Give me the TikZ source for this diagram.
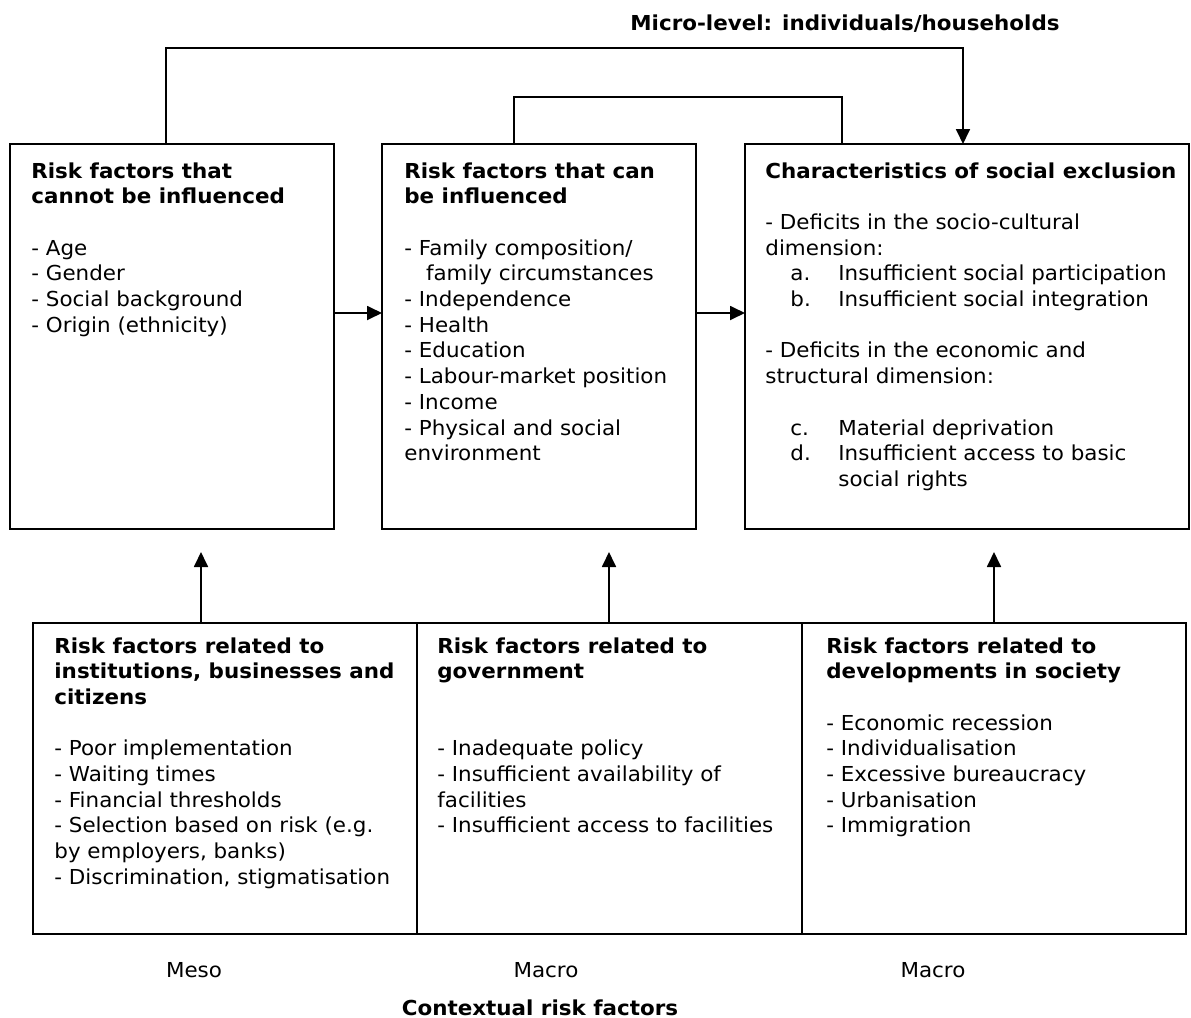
\documentclass[tikz,border=0pt]{standalone}
\usepackage{fontspec}
\setmainfont{DejaVu Sans}[FakeStretch=1.04]
\usetikzlibrary{arrows.meta,positioning}

\newcommand{\bodysize}{\fontsize{10.3}{12.85}\selectfont}
\newcommand{\gapline}{\\[12.85pt]}
\newcommand{\sublist}[1]{\hspace*{12.5pt}\makebox[24pt][l]{#1}}

\tikzset{
  frame/.style={draw, line width=1pt, inner sep=0pt, outer sep=0pt, anchor=north west},
  body/.style={align=left, inner sep=0pt, anchor=north west, font=\bodysize},
  level/.style={inner sep=0pt, anchor=base, font=\bodysize},
  link/.style={line width=0.9pt},
  flow/.style={link, -{Triangle[length=7.5pt,width=7pt]}}
}

\begin{document}
\begin{tikzpicture}[x=0.5pt,y=-0.5pt]
	\useasboundingbox (0,0) rectangle (1191,1018);

	% micro level boxes
	\node[frame, minimum width=162pt, minimum height=192.5pt] (fixed) at (10,144) {};
	\node[frame, minimum width=157pt, minimum height=192.5pt] (open) at (382,144) {};
	\node[frame, minimum width=222pt, minimum height=192.5pt] (excl) at (745,144) {};

	\node[body] (fixedtxt) at ([shift={(21,18)}]fixed.north west) {%
		\textbf{Risk factors that}\\
		\textbf{cannot be influenced}\gapline
		- Age\\
		- Gender\\
		- Social background\\
		- Origin (ethnicity)};
	\node[body] (opentxt) at ([shift={(22,18)}]open.north west) {%
		\textbf{Risk factors that can}\\
		\textbf{be influenced}\gapline
		- Family composition/\\
		\hspace*{1.05em}family circumstances\\
		- Independence\\
		- Health\\
		- Education\\
		- Labour-market position\\
		- Income\\
		- Physical and social\\
		environment};
	\node[body] (excltxt) at ([shift={(20,18)}]excl.north west) {%
		\textbf{Characteristics of social exclusion}\gapline
		- Deficits in the socio-cultural\\
		dimension:\\
		\sublist{a.}Insufficient social participation\\
		\sublist{b.}Insufficient social integration\gapline
		- Deficits in the economic and\\
		structural dimension:\gapline
		\sublist{c.}Material deprivation\\
		\sublist{d.}Insufficient access to basic\\
		\hspace*{36.5pt}social rights};

	% contextual boxes
	\node[frame, minimum width=192pt, minimum height=155.5pt] (inst) at (33,623) {};
	\node[frame, minimum width=192.5pt, minimum height=155.5pt] (gov) at (inst.north east) {};
	\node[frame, minimum width=192pt, minimum height=155.5pt] (soc) at (gov.north east) {};

	\node[body] (insttxt) at ([shift={(21,14)}]inst.north west) {%
		\textbf{Risk factors related to}\\
		\textbf{institutions, businesses and}\\
		\textbf{citizens}\gapline
		- Poor implementation\\
		- Waiting times\\
		- Financial thresholds\\
		- Selection based on risk (e.g.\\
		by employers, banks)\\
		- Discrimination, stigmatisation};
	\node[body] (govtxt) at ([shift={(20,14)}]gov.north west) {%
		\textbf{Risk factors related to}\\
		\textbf{government}\gapline
		\mbox{}\\
		- Inadequate policy\\
		- Insufficient availability of\\
		facilities\\
		- Insufficient access to facilities};
	\node[body] (soctxt) at ([shift={(24,14)}]soc.north west) {%
		\textbf{Risk factors related to}\\
		\textbf{developments in society}\gapline
		- Economic recession\\
		- Individualisation\\
		- Excessive bureaucracy\\
		- Urbanisation\\
		- Immigration};

	% levels
	\node[level, anchor=base west] (micro) at (630,30) {\textbf{Micro-level: individuals/households}};
	\node[level] (meso) at (194,977) {Meso};
	\node[level] (macroa) at (546,977) {Macro};
	\node[level] (macrob) at (933,977) {Macro};
	\node[level] (context) at (540,1015) {\textbf{Contextual risk factors}};

	% arrows
	\draw[flow] ([xshift=-3pt]fixed.north) -- ++(0,-96) -| ([xshift=-2pt]excl.north);
	\draw[link] ([xshift=-12.5pt]open.north) -- ++(0,-47) -| ([xshift=-62.5pt]excl.north);
	\draw[flow] ([yshift=11.75pt]fixed.east) -- ([yshift=11.75pt]open.west);
	\draw[flow] ([yshift=11.75pt]open.east) -- ([yshift=11.75pt]excl.west);

	\coordinate (instup) at ([xshift=-12pt]inst.north);
	\coordinate (govup) at ([xshift=-0.25pt]gov.north);
	\draw[flow, shorten >=11.5pt] (instup) -- (instup |- fixed.south);
	\draw[flow, shorten >=11.5pt] (govup) -- (govup |- open.south);
	\draw[flow, shorten >=11.5pt] (soc.north) -- (soc.north |- excl.south);
\end{tikzpicture}
\end{document}
